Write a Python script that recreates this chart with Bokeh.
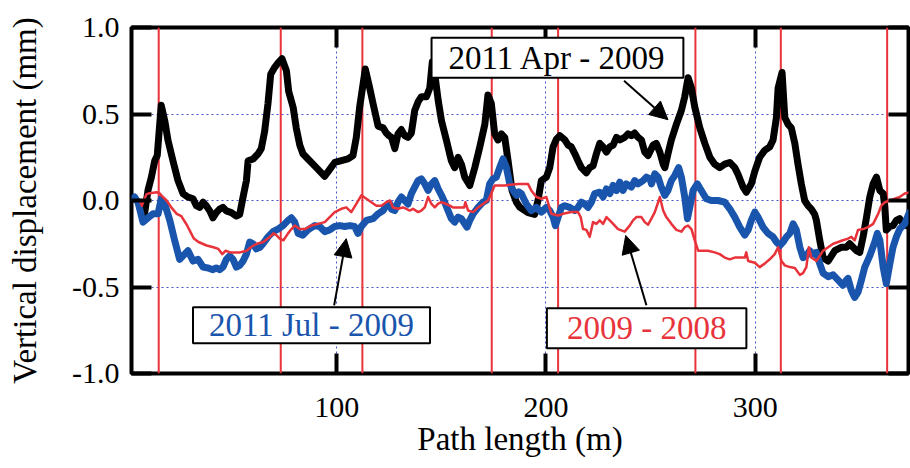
from bokeh.plotting import figure
from bokeh.models import (Range1d, LinearAxis, FixedTicker, Span, Label, Arrow,
                          NormalHead, CustomJSTickFormatter, NumeralTickFormatter)
from bokeh.embed import file_html
from bokeh.resources import INLINE

# ---------------- data ----------------
x_ticks = [100, 200, 300]
y_ticks = [-1.0, -0.5, 0.0, 0.5, 1.0]

markers = [15.0, 73.3, 112.3, 174.1, 205.8, 271.4, 312.2, 363.0]

series_names = ["2011 Apr - 2009", "2011 Jul - 2009", "2009 - 2008"]

apr_x = [6.5, 8.3, 9.9, 11.5, 13.1, 14.3, 16.2, 17.9, 19.4, 21.8, 24.2, 26.6, 29.0, 31.4, 33.0, 34.6,
         36.2, 37.7, 39.4, 40.9, 42.5, 44.1, 45.7, 47.3, 49.7, 52.1, 53.7, 55.3, 56.9, 57.7, 60.1, 62.5,
         64.0, 65.6, 67.2, 68.5, 70.4, 72.3, 73.9, 76.0, 77.1, 79.2, 80.7, 82.4, 83.9, 86.3, 89.5, 91.9,
         94.3, 96.7, 99.1, 102.3, 105.4, 107.8, 109.4, 111.0, 112.6, 113.7, 115.8, 117.4, 119.8, 122.2,
         123.7, 125.0, 126.2, 127.8, 129.3, 130.9, 132.5, 134.1, 135.7, 137.3, 138.9, 140.5, 142.9, 144.5,
         145.7, 146.9, 148.5, 150.1, 152.4, 154.8, 156.4, 158.0, 159.6, 161.2, 163.6, 166.0, 168.4, 170.8,
         172.3, 173.9, 175.5, 177.1, 178.7, 180.3, 181.9, 183.8, 185.9, 187.6, 191.4, 194.6, 196.2, 197.8,
         200.2, 201.8, 203.4, 205.0, 206.6, 209.0, 210.6, 212.1, 213.8, 215.3, 216.9, 219.3, 220.9, 222.5,
         224.1, 225.7, 227.3, 228.9, 230.5, 232.1, 233.7, 235.3, 237.6, 239.2, 240.8, 242.4, 244.0, 245.6,
         247.2, 248.8, 251.2, 252.7, 254.4, 256.0, 256.8, 258.3, 259.9, 262.3, 264.7, 266.3, 267.9, 269.5,
         271.1, 273.5, 275.9, 278.3, 280.6, 283.0, 285.4, 287.8, 290.2, 291.8, 294.2, 295.7, 298.1, 299.8,
         302.1, 304.5, 306.9, 308.5, 310.1, 310.9, 312.8, 314.1, 315.7, 317.2, 318.9, 320.4, 322.0, 323.6,
         325.2, 326.8, 328.4, 329.2, 330.8, 332.4, 334.8, 336.4, 338.0, 339.6, 341.1, 343.5, 345.1, 346.7,
         348.3, 349.9, 351.5, 353.1, 354.7, 356.3, 357.9, 359.5, 361.1, 361.9, 362.6, 364.3, 365.8, 367.4,
         369.0, 370.6, 372.2, 374.0]
apr_y = [0.00, -0.07, 0.06, 0.135, 0.23, 0.26, 0.55, 0.46, 0.35, 0.23, 0.115, 0.04, 0.02, 0.01, -0.03, -0.04,
         -0.01, -0.03, -0.06, -0.10, -0.07, -0.05, -0.04, -0.06, -0.07, -0.09, -0.08, 0.02, 0.115, 0.23, 0.24, 0.27,
         0.30, 0.40, 0.56, 0.73, 0.77, 0.80, 0.82, 0.75, 0.63, 0.54, 0.42, 0.32, 0.27, 0.24, 0.20, 0.17,
         0.14, 0.18, 0.22, 0.23, 0.24, 0.26, 0.365, 0.54, 0.67, 0.76, 0.65, 0.56, 0.43, 0.42,
         0.39, 0.375, 0.365, 0.30, 0.385, 0.41, 0.375, 0.365, 0.39, 0.52, 0.57, 0.60, 0.60, 0.65,
         0.80, 0.73, 0.58, 0.46, 0.35, 0.23, 0.19, 0.25, 0.21, 0.135, 0.087, 0.19, 0.31, 0.44,
         0.61, 0.56, 0.385, 0.35, 0.385, 0.365, 0.23, 0.058, -0.01, -0.04, -0.07, -0.08, 0.0, 0.115,
         0.135, 0.19, 0.31, 0.355, 0.375, 0.35, 0.32, 0.31, 0.27, 0.23, 0.19, 0.16, 0.19, 0.20,
         0.27, 0.33, 0.31, 0.28, 0.31, 0.32, 0.365, 0.35, 0.365, 0.385, 0.375, 0.39, 0.365, 0.35,
         0.28, 0.26, 0.32, 0.33, 0.28, 0.21, 0.19, 0.27, 0.35, 0.44, 0.52, 0.60, 0.71, 0.65,
         0.54, 0.42, 0.33, 0.25, 0.21, 0.19, 0.21, 0.22, 0.19, 0.15, 0.077, 0.048, 0.096, 0.17,
         0.25, 0.29, 0.31, 0.35, 0.48, 0.65, 0.74, 0.48, 0.44, 0.42, 0.33, 0.21, 0.096, 0.0,
         -0.03, -0.05, -0.08, -0.115, -0.23, -0.33, -0.35, -0.32, -0.29, -0.28, -0.27, -0.27, -0.25, -0.27,
         -0.29, -0.30, -0.21, -0.10, 0.02, 0.096, 0.135, 0.058, 0.04, -0.04, -0.17, -0.15, -0.145, -0.115,
         -0.105, -0.135, -0.145, -0.15]

jul_x = [2.0, 3.5, 5.1, 7.5, 9.9, 12.3, 14.7, 16.2, 17.9, 20.3, 22.6, 25.0, 27.4, 29.0, 31.4, 33.8,
         36.2, 38.6, 40.9, 42.5, 44.1, 45.7, 47.3, 48.9, 50.5, 52.1, 53.7, 55.3, 56.9, 58.5, 60.1, 61.6,
         63.4, 64.8, 67.2, 69.6, 72.0, 74.4, 76.8, 78.4, 80.0, 81.6, 83.9, 86.3, 89.5, 91.9, 94.3, 96.7,
         99.1, 101.5, 103.9, 106.3, 108.6, 110.2, 111.8, 114.2, 117.4, 119.8, 122.2, 123.7, 125.5, 126.2,
         127.8, 129.3, 130.9, 132.5, 134.1, 135.7, 137.3, 138.9, 140.5, 142.1, 143.7, 145.3, 146.9, 148.5,
         150.1, 151.6, 153.2, 154.8, 156.4, 158.0, 159.6, 161.2, 162.3, 163.6, 165.2, 167.6, 169.9, 171.5,
         173.1, 174.7, 176.3, 177.9, 179.5, 181.1, 182.7, 184.3, 185.9, 187.0, 188.2, 190.6, 193.0, 195.4,
         197.8, 200.2, 201.8, 203.4, 204.5, 205.8, 207.4, 209.0, 211.4, 213.8, 215.3, 216.9, 218.5, 220.1,
         221.7, 223.3, 225.7, 227.3, 228.9, 230.5, 232.1, 233.7, 235.3, 236.8, 238.4, 240.8, 242.4, 244.0,
         246.4, 248.0, 249.7, 250.4, 252.0, 253.6, 255.1, 256.8, 258.3, 259.9, 261.5, 263.4, 264.7, 266.3,
         267.6, 268.7, 270.3, 272.3, 274.2, 276.6, 279.0, 282.2, 285.4, 287.8, 290.2, 292.6, 295.0, 296.6,
         298.1, 299.8, 301.3, 303.7, 306.1, 308.5, 310.1, 311.8, 313.3, 314.9, 316.5, 318.1, 319.6, 321.3,
         322.8, 324.4, 326.0, 327.6, 329.2, 330.8, 332.4, 334.8, 337.2, 339.6, 341.9, 343.5, 344.3, 345.9,
         347.5, 349.1, 350.7, 352.3, 354.7, 357.1, 358.3, 359.5, 361.1, 362.6, 364.3, 365.8, 367.4, 369.0,
         371.4, 374.0]
jul_y = [0.0, 0.02, -0.01, -0.125, -0.10, -0.077, -0.077, 0.01, -0.02, -0.115, -0.23, -0.34, -0.31, -0.29, -0.35, -0.34,
         -0.385, -0.39, -0.40, -0.39, -0.40, -0.385, -0.34, -0.32, -0.34, -0.385, -0.375, -0.35, -0.31, -0.24, -0.25, -0.28,
         -0.27, -0.25, -0.21, -0.18, -0.165, -0.145, -0.115, -0.10, -0.125, -0.19, -0.20, -0.17, -0.145, -0.15, -0.18, -0.17,
         -0.15, -0.145, -0.15, -0.145, -0.15, -0.19, -0.15, -0.115, -0.105, -0.077, -0.058, -0.03, -0.02, -0.05,
         -0.058, -0.01, 0.02, 0.0, -0.02, 0.04, 0.077, 0.115, 0.125, 0.096, 0.058, 0.096, 0.115, 0.067,
         0.03, -0.01, -0.058, -0.105, -0.125, -0.096, -0.105, -0.135, -0.154, -0.115, -0.077, -0.04, -0.01, 0.0,
         0.096, 0.125, 0.135, 0.19, 0.24, 0.19, 0.096, 0.058, 0.03, 0.05, 0.04, -0.02, -0.058, -0.04,
         -0.067, -0.04, -0.058, -0.096, -0.145, -0.096, -0.04, -0.03, -0.04, -0.058, -0.04, -0.01, -0.02, -0.04,
         -0.01, 0.04, 0.048, 0.02, 0.067, 0.04, 0.087, 0.058, 0.106, 0.058, 0.096, 0.077, 0.115, 0.096,
         0.115, 0.135, 0.125, 0.096, 0.154, 0.135, 0.077, 0.03, 0.058, 0.115, 0.144, 0.19, 0.135, 0.02,
         -0.105, -0.04, 0.058, 0.096, 0.058, 0.01, 0.0, 0.0, -0.01, -0.048, -0.096, -0.154, -0.20, -0.17,
         -0.115, -0.067, -0.096, -0.154, -0.19, -0.21, -0.24, -0.26, -0.24, -0.21, -0.19, -0.135, -0.17, -0.27,
         -0.33, -0.32, -0.29, -0.31, -0.30, -0.365, -0.42, -0.44, -0.43, -0.46, -0.49, -0.46, -0.45, -0.52,
         -0.56, -0.53, -0.46, -0.385, -0.32, -0.24, -0.19, -0.23, -0.385, -0.48, -0.365, -0.27, -0.21, -0.165,
         -0.135, -0.058]

y08_x = [6.1, 6.9, 9.1, 10.0, 14.0, 15.6, 16.2, 18.8, 21.0, 23.6, 25.8, 28.4, 30.5, 31.8, 34.0, 37.9,
         41.1, 43.5, 45.4, 47.0, 49.1, 53.8, 57.0, 59.0, 61.8, 65.0, 68.2, 69.8, 71.2, 72.8, 74.6, 76.8,
         78.4, 80.0, 82.4, 84.8, 87.9, 91.1, 94.3, 96.7, 99.1, 102.3, 104.6, 107.0, 109.4, 111.8, 114.2, 116.6,
         119.0, 121.4, 123.7, 125.5, 126.9, 129.3, 131.7, 133.3, 134.9, 136.5, 138.9, 140.5, 142.1, 143.7,
         145.3, 146.9, 148.4, 150.0, 152.4, 155.6, 158.8, 160.9, 161.5, 162.8, 165.2, 167.6, 169.9, 172.3,
         173.9, 175.5, 180.3, 186.7, 191.4, 193.0, 195.4, 197.8, 200.2, 202.6, 205.8, 208.2, 212.1, 215.3,
         216.6, 217.7, 219.3, 220.9, 222.5, 224.1, 225.7, 227.3, 228.9, 230.5, 232.1, 234.4, 237.6, 240.0,
         241.6, 243.2, 245.6, 247.2, 248.8, 250.4, 252.0, 253.6, 254.4, 256.0, 257.5, 259.9, 262.3, 264.7,
         266.3, 267.9, 269.5, 271.1, 272.7, 277.4, 280.6, 283.0, 285.4, 287.8, 290.2, 295.0, 295.7, 296.6,
         299.8, 302.1, 304.5, 306.9, 309.3, 310.9, 312.5, 314.1, 316.5, 318.9, 321.3, 322.8, 324.4, 325.6,
         326.8, 329.2, 330.8, 332.4, 334.8, 337.2, 339.6, 341.9, 344.3, 345.9, 347.5, 349.1, 351.5, 353.9,
         356.3, 358.7, 360.2, 361.9, 364.3, 366.6, 369.0, 371.4, 374.0]
y08_y = [0.0, -0.03, 0.035, 0.04, 0.048, 0.04, 0.03, 0.0, -0.04, -0.077, -0.09, -0.14, -0.19, -0.22, -0.24, -0.26,
         -0.27, -0.28, -0.31, -0.29, -0.30, -0.30, -0.29, -0.27, -0.25, -0.24, -0.21, -0.19, -0.20, -0.22, -0.23, -0.19,
         -0.165, -0.145, -0.165, -0.165, -0.145, -0.135, -0.125, -0.096, -0.067, -0.048, -0.04, -0.067, -0.02, 0.03, 0.01, -0.01,
         -0.03, -0.03, -0.01, 0.0, -0.04, -0.048, -0.04, -0.048, -0.058, -0.048, -0.067, -0.058, -0.04, 0.02,
         -0.02, -0.04, -0.02, -0.01, -0.02, -0.04, -0.04, -0.04, -0.01, -0.058, -0.067, -0.04, -0.02, 0.0,
         0.04, 0.087, 0.087, 0.096, 0.096, 0.058, 0.02, 0.01, 0.02, -0.077, -0.087, -0.077, -0.067, -0.067,
         -0.096, -0.165, -0.17, -0.21, -0.125, -0.135, -0.115, -0.135, -0.096, -0.115, -0.135, -0.165, -0.18, -0.145,
         -0.115, -0.096, -0.096, -0.125, -0.14, -0.105, -0.067, -0.01, 0.02, -0.058, -0.096, -0.135, -0.17, -0.18,
         -0.154, -0.145, -0.165, -0.23, -0.29, -0.29, -0.30, -0.31, -0.33, -0.34, -0.33, -0.33, -0.30, -0.35,
         -0.36, -0.385, -0.365, -0.34, -0.31, -0.27, -0.35, -0.375, -0.385, -0.39, -0.43, -0.42, -0.385, -0.27,
         -0.33, -0.35, -0.32, -0.29, -0.27, -0.25, -0.24, -0.23, -0.22, -0.21, -0.23, -0.17, -0.165, -0.154,
         -0.135, -0.077, -0.03, -0.01, 0.0, 0.01, 0.02, 0.04, 0.048]

# ---------------- style ----------------
FONT = "Liberation Serif"
BLACK = "#000000"
BLUE = "#1a55ad"
RED = "#e8333b"
GRID = "#4353cc"

p = figure(width=910, height=468, output_backend="svg", toolbar_location=None,
           x_range=Range1d(2, 373.2), y_range=Range1d(-1.0, 1.0),
           min_border_left=131, min_border_right=2, min_border_top=27, min_border_bottom=95,
           background_fill_color="white", border_fill_color="white")

p.outline_line_color = "black"
p.outline_line_width = 4
p.outline_line_alpha = 1.0

p.xaxis.ticker = FixedTicker(ticks=x_ticks)
p.yaxis.ticker = FixedTicker(ticks=y_ticks)
p.yaxis.formatter = NumeralTickFormatter(format="0.0")
p.xgrid.ticker = FixedTicker(ticks=x_ticks)
p.ygrid.ticker = FixedTicker(ticks=y_ticks)
for g in (p.xgrid, p.ygrid):
    g.grid_line_color = GRID
    g.grid_line_dash = "2 3"
    g.grid_line_width = 1

for ax in (p.xaxis, p.yaxis):
    ax.axis_line_color = None
    ax.major_tick_in = 20
    ax.major_tick_out = 0
    ax.major_tick_line_width = 4
    ax.major_tick_line_color = "black"
    ax.minor_tick_line_color = None
    ax.major_label_text_font = FONT
    ax.major_label_text_font_size = "30px"
    ax.major_label_text_color = "black"
    ax.axis_label_text_font = FONT
    ax.axis_label_text_font_size = "33px"
    ax.axis_label_text_font_style = "normal"
    ax.axis_label_text_color = "black"

p.xaxis.axis_label = "Path length (m)"
p.yaxis.axis_label = "Vertical displacement (mm)"
p.xaxis.major_label_standoff = 24
p.xaxis.axis_label_standoff = 1
p.yaxis.major_label_standoff = 12
p.yaxis.axis_label_standoff = 26

# mirrored inner ticks on top and right
for loc, ticks in (("above", x_ticks), ("right", y_ticks)):
    ax = LinearAxis(ticker=FixedTicker(ticks=ticks),
                    formatter=CustomJSTickFormatter(code="return ''"),
                    axis_line_color=None, major_tick_in=20, major_tick_out=0,
                    major_tick_line_width=4, major_tick_line_color="black",
                    minor_tick_line_color=None, major_label_text_font_size="0px",
                    major_label_standoff=0)
    p.add_layout(ax, loc)

# red vertical marker lines (beneath the data)
for m in markers:
    p.add_layout(Span(location=m, dimension="height", line_color=RED,
                      line_width=2, level="underlay"))

p.line(apr_x, apr_y, line_color=BLACK, line_width=7, line_join="round")
p.line(jul_x, jul_y, line_color=BLUE, line_width=7, line_join="round")
p.line(y08_x, y08_y, line_color=RED, line_width=2.5, line_join="round")

# annotation arrows
arrows = [
    (237.3, 0.692, 258.3, 0.467),
    (98.8, -0.606, 104.6, -0.221),
    (248.0, -0.606, 238.1, -0.202),
]
for xs, ys, xe, ye in arrows:
    p.add_layout(Arrow(end=NormalHead(size=18, fill_color="black", line_color="black", line_width=1),
                       x_start=xs, y_start=ys, x_end=xe, y_end=ye,
                       line_color="black", line_width=2))

labels = [
    (series_names[0], 205.5, 0.825, BLACK, dict(left=17, right=17, top=2, bottom=2)),
    (series_names[1], 88.0, -0.721, BLUE, dict(left=16, right=16, top=0, bottom=0)),
    (series_names[2], 248.1, -0.739, RED, dict(left=20, right=20, top=2, bottom=2)),
]
for txt, lx, ly, col, pad in labels:
    p.add_layout(Label(x=lx, y=ly, text=txt, text_font=FONT, text_font_size="33px",
                       text_color=col, text_align="center", text_baseline="middle",
                       background_fill_color="white", background_fill_alpha=1.0,
                       border_line_color="black", border_line_width=2, padding=pad))

open("out.html", "w").write(file_html(p, INLINE))
